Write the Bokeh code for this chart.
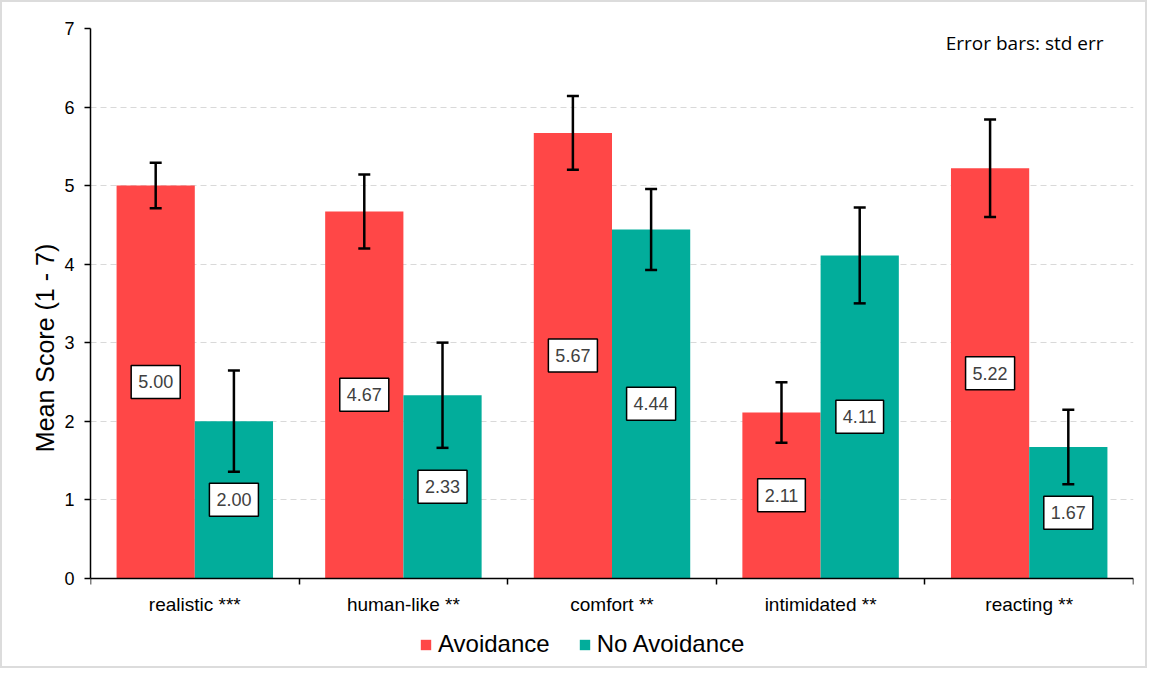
from bokeh.plotting import figure
from bokeh.models import (ColumnDataSource, Whisker, TeeHead, Label, Legend,
                          LegendItem, FixedTicker, Range1d)
from bokeh.embed import file_html
from bokeh.resources import INLINE

# ---- data ----
categories = ["realistic ***", "human-like **", "comfort **", "intimidated **", "reacting **"]
series_names = ["Avoidance", "No Avoidance"]
avoidance = [5.00, 4.67, 5.67, 2.11, 5.22]
no_avoidance = [2.00, 2.33, 4.44, 4.11, 1.67]
avoidance_se = [0.29, 0.47, 0.47, 0.385, 0.62]
no_avoidance_se = [0.645, 0.67, 0.515, 0.61, 0.475]
y_ticks = [0, 1, 2, 3, 4, 5, 6, 7]
note_text = "Error bars: std err"

RED = "#FF4747"
TEAL = "#02AD9B"
FONT = "Liberation Sans"

n = len(categories)
bar_w = 0.375
offsets = [-bar_w / 2, bar_w / 2]

# the frame reaches below zero so that the legend can sit under the category labels
p = figure(width=1147, height=668, output_backend="svg", toolbar_location=None,
           x_range=Range1d(0, n), y_range=Range1d(-1.137, 7),
           min_border_left=88, min_border_right=16, min_border_top=26, min_border_bottom=3)
p.styles = {"border": "2px solid #dcdcdc", "box-sizing": "border-box"}
p.outline_line_color = None
p.background_fill_color = "white"
p.border_fill_color = "white"

renderers = []
for vals, ses, off, col in [(avoidance, avoidance_se, offsets[0], RED),
                            (no_avoidance, no_avoidance_se, offsets[1], TEAL)]:
    xs = [i + 0.5 + off for i in range(n)]
    src = ColumnDataSource(dict(
        x=xs, top=vals,
        upper=[v + s for v, s in zip(vals, ses)],
        lower=[v - s for v, s in zip(vals, ses)],
    ))
    r = p.vbar(x="x", top="top", bottom=0, width=bar_w, source=src,
               fill_color=col, line_color=None)
    renderers.append(r)
    w = Whisker(source=src, base="x", upper="upper", lower="lower", level="overlay",
                line_color="black", line_width=2.5,
                upper_head=TeeHead(size=12, line_width=2.5, line_color="black"),
                lower_head=TeeHead(size=12, line_width=2.5, line_color="black"))
    p.add_layout(w)
    for x, v in zip(xs, vals):
        p.add_layout(Label(x=x, y=v / 2, text="%.2f" % v,
                           text_align="center", text_baseline="middle",
                           text_font=FONT, text_font_size="18px", text_color="#404040",
                           background_fill_color="white", border_line_color="black",
                           border_line_width=1.5, padding=(7, 10)))

# grid
p.xgrid.visible = False
p.ygrid.ticker = FixedTicker(ticks=y_ticks)
p.ygrid.grid_line_color = "#d9d9d9"
p.ygrid.grid_line_dash = "6 4"
p.ygrid.grid_line_width = 1

# y axis
p.yaxis.ticker = FixedTicker(ticks=y_ticks)
p.yaxis.bounds = (0, 7)
p.yaxis.axis_label = "Mean Score (1 - 7)"
p.yaxis.axis_label_text_font = FONT
p.yaxis.axis_label_text_font_size = "25px"
p.yaxis.axis_label_text_font_style = "normal"
p.yaxis.axis_label_text_color = "black"
p.yaxis.axis_label_standoff = 2
p.yaxis.major_label_text_font = FONT
p.yaxis.major_label_text_font_size = "18px"
p.yaxis.major_label_text_color = "black"
p.yaxis.axis_line_color = "black"
p.yaxis.axis_line_width = 1.5
p.yaxis.major_tick_line_color = "black"
p.yaxis.major_tick_line_width = 1.5
p.yaxis.major_tick_out = 6
p.yaxis.major_tick_in = 0
p.yaxis.minor_tick_line_color = None
p.yaxis.major_label_standoff = 10

# x axis at y = 0: labels at centres, ticks at group boundaries
centers = [i + 0.5 for i in range(n)]
p.xaxis.fixed_location = 0
p.xaxis.ticker = FixedTicker(ticks=centers, minor_ticks=list(range(n + 1)))
p.xaxis.major_label_overrides = {c: lab for c, lab in zip(centers, categories)}
p.xaxis.major_tick_line_color = None
p.xaxis.minor_tick_line_color = "black"
p.xaxis.minor_tick_line_width = 1.5
p.xaxis.minor_tick_out = 6
p.xaxis.minor_tick_in = 0
p.xaxis.axis_line_color = "black"
p.xaxis.axis_line_width = 1.5
p.xaxis.major_label_text_font = FONT
p.xaxis.major_label_text_font_size = "19px"
p.xaxis.major_label_text_color = "black"
p.xaxis.major_label_standoff = 10

# legend under the category labels
legend = Legend(items=[LegendItem(label=series_names[0], renderers=[renderers[0]]),
                       LegendItem(label=series_names[1], renderers=[renderers[1]])],
                orientation="horizontal", location=(329, 9),
                label_text_font=FONT, label_text_font_size="24px", label_text_color="black",
                glyph_width=13, glyph_height=13, label_standoff=6, spacing=28,
                border_line_color=None, background_fill_alpha=0, padding=0, margin=0)
p.add_layout(legend)

# note
p.add_layout(Label(x=4.1, y=6.81, text=note_text, text_font="Open Sans",
                   text_font_size="19px", text_color="black", text_baseline="middle"))

open("out.html", "w").write(file_html(p, INLINE))
